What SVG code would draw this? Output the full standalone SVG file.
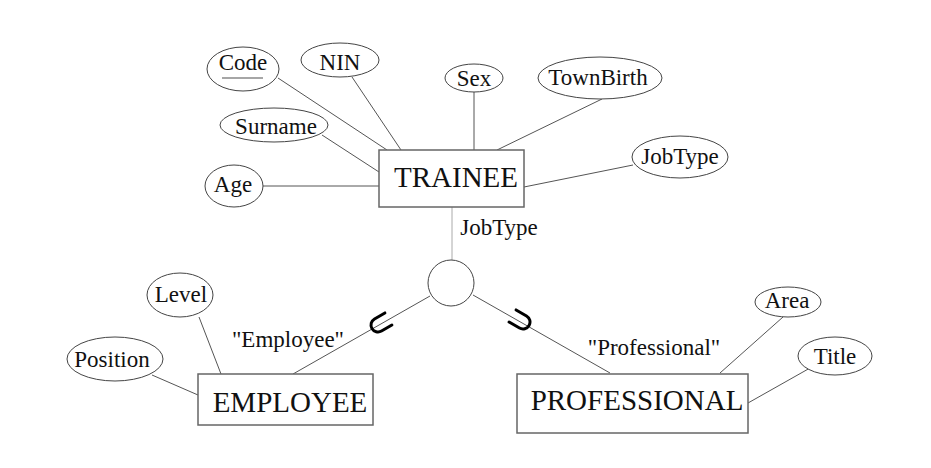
<svg xmlns="http://www.w3.org/2000/svg" width="931" height="468" viewBox="0 0 931 468">
<style>
  .attr { fill: #fff; stroke: #444; stroke-width: 1; }
  .ent { fill: #fff; stroke: #666; stroke-width: 1.5; }
  .t { font-family: "Liberation Serif", "Times New Roman", serif; font-size: 23px; fill: #111; text-anchor: middle; }
  .et { font-family: "Liberation Serif", "Times New Roman", serif; font-size: 29px; fill: #111; text-anchor: middle; }
  .conn line { stroke: #555; stroke-width: 1; }
  .sub { fill: none; stroke: #000; stroke-width: 3; stroke-linecap: round; }
</style>
<rect width="931" height="468" fill="#fff"/>
<g id="connectors" class="conn">
  <line x1="278" y1="78" x2="387" y2="150"/>
  <line x1="352" y1="77" x2="401" y2="150"/>
  <line x1="322" y1="135" x2="379" y2="172"/>
  <line x1="263" y1="186" x2="379" y2="186"/>
  <line x1="474" y1="92" x2="474" y2="150"/>
  <line x1="602" y1="99" x2="497" y2="150"/>
  <line x1="633" y1="165" x2="524" y2="187"/>
  <line x1="452" y1="207" x2="452" y2="260" style="stroke:#aaa"/>
  <line x1="430" y1="296" x2="293" y2="374"/>
  <line x1="473" y1="295" x2="610" y2="373"/>
  <line x1="199" y1="317" x2="221" y2="374"/>
  <line x1="152" y1="375" x2="198" y2="395"/>
  <line x1="783" y1="317" x2="720" y2="373"/>
  <line x1="810" y1="368" x2="748" y2="403"/>
  <path class="sub" transform="translate(378,325) rotate(-30)" d="M 12 -7 H 0 A 7 7 0 0 0 0 7 H 12"/>
  <path class="sub" transform="translate(523,322) rotate(30)" d="M -12 -7 H 0 A 7 7 0 0 1 0 7 H -12"/>
</g>
<g id="trainee">
  <rect class="ent" x="379" y="150" width="145" height="57"/>
  <text class="et" x="456" y="187">TRAINEE</text>
</g>
<g id="code">
  <ellipse class="attr" cx="243" cy="69" rx="36" ry="22"/>
  <text class="t" x="243" y="70">Code</text>
  <line x1="222" y1="78" x2="263" y2="78" stroke="#888" stroke-width="1.5"/>
</g>
<g id="nin">
  <ellipse class="attr" cx="340" cy="60" rx="39" ry="17"/>
  <text class="t" x="340" y="70">NIN</text>
</g>
<g id="sex">
  <ellipse class="attr" cx="474" cy="78" rx="29" ry="14"/>
  <text class="t" x="474" y="86">Sex</text>
</g>
<g id="townbirth">
  <ellipse class="attr" cx="600" cy="78" rx="62" ry="21"/>
  <text class="t" x="598" y="85">TownBirth</text>
</g>
<g id="jobtype-attr">
  <ellipse class="attr" cx="680" cy="157" rx="48" ry="21"/>
  <text class="t" x="680" y="164">JobType</text>
</g>
<g id="surname">
  <ellipse class="attr" cx="274" cy="125" rx="54" ry="17"/>
  <text class="t" x="276" y="134">Surname</text>
</g>
<g id="age">
  <ellipse class="attr" cx="234" cy="186" rx="29" ry="21"/>
  <text class="t" x="233" y="192">Age</text>
</g>
<g id="generalization">
  <circle class="attr" cx="451" cy="283" r="23"/>
  <text class="t" x="499" y="235">JobType</text>
</g>
<g id="employee">
  <rect class="ent" x="198" y="374" width="175" height="51"/>
  <text class="et" x="290" y="412">EMPLOYEE</text>
  <text class="t" x="288" y="347">"Employee"</text>
</g>
<g id="level">
  <ellipse class="attr" cx="180" cy="295" rx="33" ry="22"/>
  <text class="t" x="181" y="302">Level</text>
</g>
<g id="position">
  <ellipse class="attr" cx="115" cy="359" rx="48" ry="22"/>
  <text class="t" x="112" y="367">Position</text>
</g>
<g id="professional">
  <rect class="ent" x="517" y="374" width="231" height="59"/>
  <text class="et" x="637" y="410">PROFESSIONAL</text>
  <text class="t" x="654" y="355">"Professional"</text>
</g>
<g id="area">
  <ellipse class="attr" cx="788" cy="302" rx="33" ry="15"/>
  <text class="t" x="787" y="308">Area</text>
</g>
<g id="title">
  <ellipse class="attr" cx="835" cy="356" rx="37" ry="19"/>
  <text class="t" x="835" y="364">Title</text>
</g>
</svg>
